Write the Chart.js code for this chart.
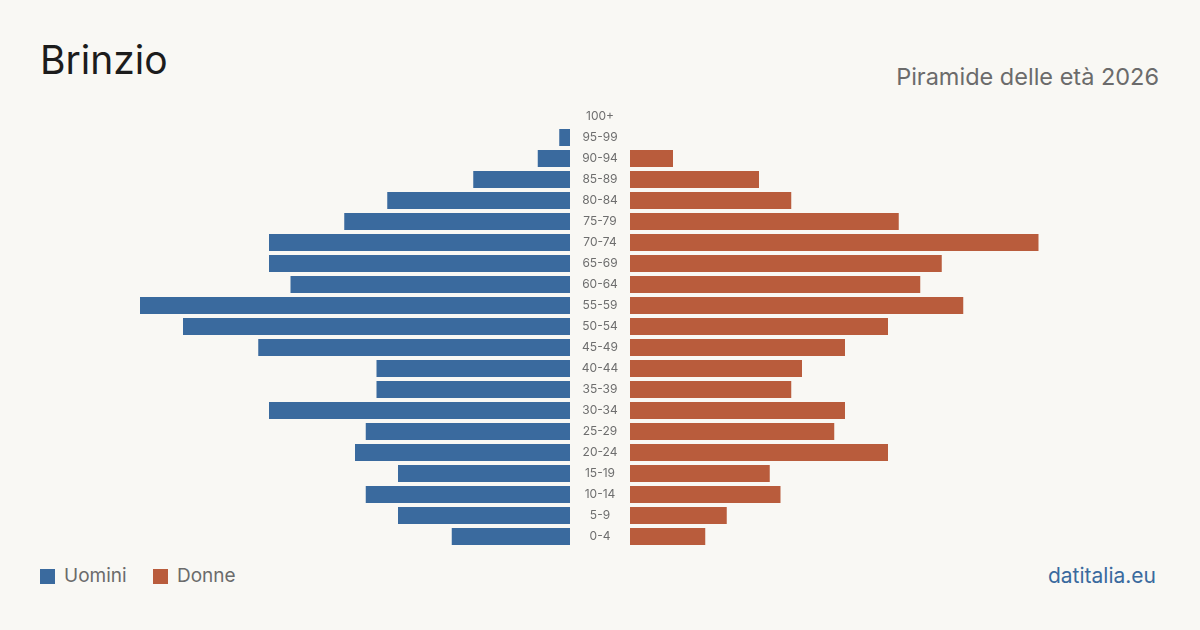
<!DOCTYPE html>
<html lang="it">
<head>
<meta charset="UTF-8">
<title>Brinzio - Piramide delle età 2026</title>
<script src="https://cdn.jsdelivr.net/npm/chart.js@4.4.1/dist/chart.umd.min.js"></script>
<style>
  html, body { margin: 0; padding: 0; }
  body { width: 1200px; height: 630px; background: #f9f8f4; position: relative; overflow: hidden; font-family: Inter, "Noto Sans", sans-serif; }
  #title { position: absolute; left: 40px; top: 40px; font-size: 39px; color: #1c1c1c; line-height: 1; }
  #sub { position: absolute; right: 41px; top: 65px; font-size: 23.5px; color: #6b6b6b; line-height: 1; }
  #left { position: absolute; left: 140px; top: 106px; width: 490px; height: 441px; }
  #right { position: absolute; left: 630px; top: 106px; width: 430px; height: 441px; }
  .leg { position: absolute; top: 567px; font-size: 19px; color: #6b6b6b; line-height: 18px; }
  .leg span { display: inline-block; width: 15px; height: 15px; vertical-align: -2px; margin-right: 9px; }
  #src { position: absolute; right: 44px; top: 565px; font-size: 21px; color: #3a6a9e; line-height: 1; }
</style>
</head>
<body>
<div id="title">Brinzio</div>
<div id="sub">Piramide delle età 2026</div>
<div id="left"><canvas id="cm"></canvas></div>
<div id="right"><canvas id="cf"></canvas></div>
<div class="leg" style="left:40px"><span style="background:#3a6a9e"></span>Uomini</div>
<div class="leg" style="left:153px"><span style="background:#b95c3c"></span>Donne</div>
<div id="src">datitalia.eu</div>
<script>
var ages = ['100+','95-99','90-94','85-89','80-84','75-79','70-74','65-69','60-64','55-59','50-54',
            '45-49','40-44','35-39','30-34','25-29','20-24','15-19','10-14','5-9','0-4'];
var uomini = [0,1,3,9,17,21,28,28,26,40,36,29,18,18,28,19,20,16,19,16,11];
var donne  = [0,0,4,12,15,25,38,29,27,31,24,20,16,15,20,19,24,13,14,9,7];
var maxVal = 40;

// age labels in the gap between the two halves
var ageLabels = {
  id: 'ageLabels',
  afterDraw: function (chart) {
    var ctx = chart.ctx, y = chart.scales.y, x = chart.chartArea.right + 30;
    ctx.save();
    ctx.fillStyle = '#6e6e6e';
    ctx.font = '12px Inter, sans-serif';
    ctx.textAlign = 'center';
    ctx.textBaseline = 'middle';
    ages.forEach(function (a, i) { ctx.fillText(a, x, y.getPixelForValue(i)); });
    ctx.restore();
  }
};

function opts(reverse, padRight) {
  return {
    responsive: true,
    maintainAspectRatio: false,
    animation: false,
    indexAxis: 'y',
    layout: { padding: { left: 0, right: padRight, top: 0, bottom: 0 } },
    plugins: { legend: { display: false }, tooltip: { enabled: false } },
    scales: {
      x: { display: false, min: 0, max: maxVal, reverse: reverse },
      y: { display: false }
    }
  };
}

new Chart(document.getElementById('cm'), {
  type: 'bar',
  data: { labels: ages, datasets: [{ data: uomini, backgroundColor: '#3a6a9e', categoryPercentage: 1, barPercentage: 0.81 }] },
  options: opts(true, 60),
  plugins: [ageLabels]
});
new Chart(document.getElementById('cf'), {
  type: 'bar',
  data: { labels: ages, datasets: [{ data: donne, backgroundColor: '#b95c3c', categoryPercentage: 1, barPercentage: 0.81 }] },
  options: opts(false, 0)
});
</script>
</body>
</html>
